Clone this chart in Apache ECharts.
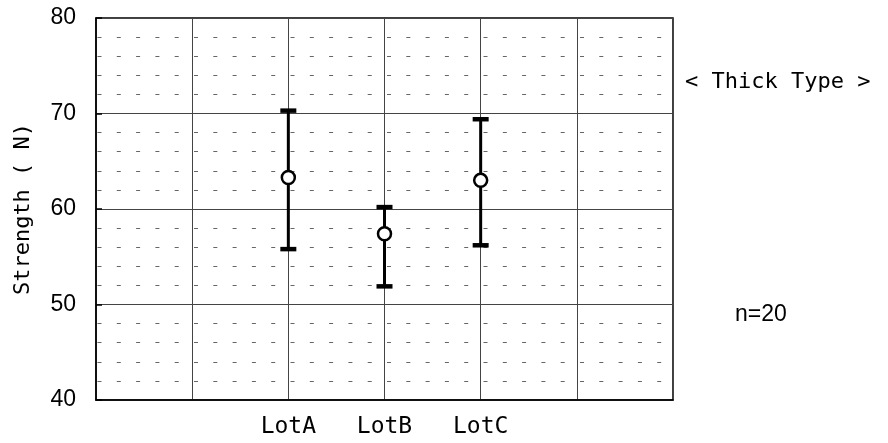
<!DOCTYPE html>
<html>
<head>
<meta charset="utf-8">
<script src="https://cdn.jsdelivr.net/npm/echarts@6/dist/echarts.min.js"></script>
<style>html,body{margin:0;padding:0;background:#fff}#c{width:888px;height:443px}</style>
</head>
<body>
<div id="c"></div>
<script>
// Data
const xSlots = ['', '', 'LotA', 'LotB', 'LotC', '', ''];
const lots = ['LotA', 'LotB', 'LotC'];
const means = [63.3, 57.4, 63.0];
const highs = [70.3, 60.2, 69.4];
const lows = [55.8, 51.9, 56.2];
const yMin = 40, yMax = 80, yStep = 10;

const chart = echarts.init(document.getElementById('c'), null, {renderer: 'canvas'});
const idx = lots.map(l => xSlots.indexOf(l));
const barData = lots.map((l, i) => [idx[i], lows[i], highs[i]]);
const meanData = lots.map((l, i) => [idx[i], means[i]]);
const mono = 'DejaVu Sans Mono';

chart.setOption({
  animation: false,
  grid: {left: 96, right: 215, top: 18, bottom: 43, outerBoundsMode: 'none', containLabel: false,
         show: true, borderColor: '#000', borderWidth: 1.5, backgroundColor: 'transparent'},
  xAxis: {
    type: 'category', data: xSlots, boundaryGap: false,
    axisLine: {lineStyle: {color: '#000', width: 1.5}},
    axisTick: {show: false},
    axisLabel: {interval: 0, color: '#000', fontFamily: mono, fontSize: 23, margin: 16},
    splitLine: {show: true, interval: 0, lineStyle: {color: '#444', width: 1}}
  },
  yAxis: {
    type: 'value', min: yMin, max: yMax, interval: yStep,
    name: 'Strength ( N)', nameLocation: 'middle', nameGap: 62, nameRotate: 90,
    nameTextStyle: {color: '#000', fontFamily: mono, fontSize: 22},
    axisLine: {show: true, lineStyle: {color: '#000', width: 1.5}},
    axisTick: {show: true, inside: true, length: 6, lineStyle: {color: '#000', width: 1.5}},
    axisLabel: {color: '#000', fontFamily: 'Liberation Sans', fontSize: 23, margin: 20},
    splitLine: {show: true, lineStyle: {color: '#444', width: 1}},
    minorTick: {show: false, splitNumber: 5},
    minorSplitLine: {show: true, lineStyle: {color: '#666', width: 1.2, type: [4, 15.3], dashOffset: -1.5}}
  },
  series: [
    {
      type: 'custom',
      data: barData,
      encode: {x: 0, y: [1, 2]},
      z: 5,
      renderItem: function (params, api) {
        const x = api.value(0);
        const lo = api.coord([x, api.value(1)]);
        const hi = api.coord([x, api.value(2)]);
        const capW = 16, capH = 4.5;
        return {
          type: 'group',
          children: [
            {type: 'line', shape: {x1: hi[0], y1: hi[1], x2: lo[0], y2: lo[1]}, style: {stroke: '#000', lineWidth: 3}},
            {type: 'rect', shape: {x: hi[0] - capW / 2, y: hi[1] - capH / 2, width: capW, height: capH}, style: {fill: '#000'}},
            {type: 'rect', shape: {x: lo[0] - capW / 2, y: lo[1] - capH / 2, width: capW, height: capH}, style: {fill: '#000'}}
          ]
        };
      }
    },
    {
      type: 'scatter',
      data: meanData,
      symbol: 'circle', symbolSize: 13,
      z: 10,
      itemStyle: {color: '#fff', borderColor: '#000', borderWidth: 2.5, opacity: 1}
    }
  ],
  graphic: [
    {type: 'text', left: 685, top: 71, style: {text: '< Thick Type >', fill: '#000', font: '22px "DejaVu Sans Mono"'}},
    {type: 'text', left: 735, top: 303, style: {text: 'n=20', fill: '#000', font: '23px "Liberation Sans"'}}
  ]
});
</script>
</body>
</html>
